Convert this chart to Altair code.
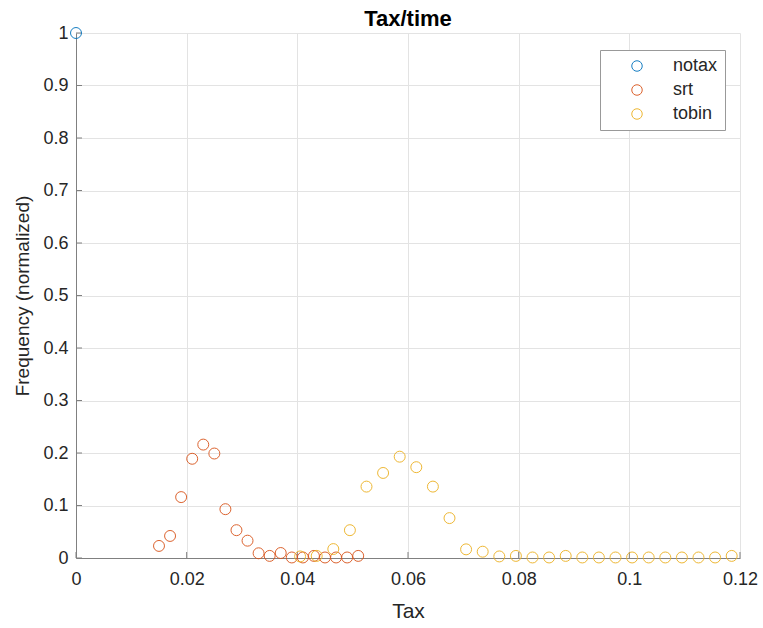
import altair as alt
import pandas as pd

# ---- data ----
notax_x = [0.0]
notax_y = [1.0]

srt_x = [0.015, 0.017, 0.019, 0.021, 0.023, 0.025, 0.027, 0.029, 0.031, 0.033,
         0.035, 0.037, 0.039, 0.041, 0.043, 0.045, 0.047, 0.049, 0.051]
srt_y = [0.023, 0.042, 0.116, 0.189, 0.216, 0.199, 0.093, 0.053, 0.033, 0.009,
         0.004, 0.0095, 0.001, 0.001, 0.004, 0.001, 0.001, 0.001, 0.004]

tobin_x = [0.0405, 0.0435, 0.0465, 0.0495, 0.0525, 0.0555, 0.0585, 0.0615, 0.0645,
           0.0675, 0.0705, 0.0735, 0.0765, 0.0795, 0.0825, 0.0855, 0.0885, 0.0915,
           0.0945, 0.0975, 0.1005, 0.1035, 0.1065, 0.1095, 0.1125, 0.1155, 0.1185]
tobin_y = [0.003, 0.004, 0.017, 0.053, 0.136, 0.162, 0.193, 0.173, 0.136,
           0.076, 0.0165, 0.012, 0.003, 0.004, 0.001, 0.001, 0.004, 0.001,
           0.001, 0.001, 0.001, 0.001, 0.001, 0.001, 0.001, 0.001, 0.004]

series_names = ["notax", "srt", "tobin"]
series_colors = ["#0072BD", "#D95319", "#EDB120"]

x_ticks = [0, 0.02, 0.04, 0.06, 0.08, 0.1, 0.12]
y_ticks = [0, 0.1, 0.2, 0.3, 0.4, 0.5, 0.6, 0.7, 0.8, 0.9, 1.0]

chart_title = "Tax/time"

# ---- tables ----
rows = []
for name, xs, ys in [("notax", notax_x, notax_y), ("srt", srt_x, srt_y), ("tobin", tobin_x, tobin_y)]:
    for xv, yv in zip(xs, ys):
        rows.append({"Tax": xv, "Freq": yv, "series": name})
df = pd.DataFrame(rows)
xt = pd.DataFrame({"Tax": x_ticks})
yt = pd.DataFrame({"Freq": y_ticks})
tt = pd.DataFrame({"label": [chart_title]})

FONT = "Liberation Sans"
W, H = 664, 525
AX = "#808080"

xscale = alt.Scale(domain=[0, 0.12], nice=False, zero=False)
yscale = alt.Scale(domain=[0, 1], nice=False)

points = alt.Chart(df).mark_point(shape="circle", filled=False, size=120, strokeWidth=1, opacity=0.9, clip=False).encode(
    x=alt.X("Tax:Q", scale=xscale,
            axis=alt.Axis(values=x_ticks, format="~g", title="Tax", grid=True, ticks=False,
                          labelFlush=False, labelPadding=12, titlePadding=12, titleFontSize=21)),
    y=alt.Y("Freq:Q", scale=yscale,
            axis=alt.Axis(values=y_ticks, format="~g", title="Frequency (normalized)", grid=True,
                          ticks=False, labelFlush=False, labelPadding=8, titlePadding=10,
                          titleFontSize=19)),
    color=alt.Color("series:N", scale=alt.Scale(domain=series_names, range=series_colors),
                    legend=alt.Legend(title=None, orient="none", legendX=524, legendY=17,
                                      strokeColor="#999999", fillColor="white", padding=7,
                                      symbolOffset=21, labelOffset=27, rowPadding=6,
                                      symbolSize=110, symbolStrokeWidth=1, symbolType="circle",
                                      labelFontSize=18, labelFont=FONT, labelColor="#262626")),
)

xtick_rules = alt.Chart(xt).mark_rule(color=AX, strokeWidth=1).encode(
    x=alt.X("Tax:Q", scale=xscale),
    y=alt.value(H),
    y2=alt.value(H - 6),
)
ytick_rules = alt.Chart(yt).mark_rule(color=AX, strokeWidth=1).encode(
    y=alt.Y("Freq:Q", scale=yscale),
    x=alt.value(0),
    x2=alt.value(6),
)

title_text = alt.Chart(tt).mark_text(font=FONT, fontSize=22, fontWeight="bold", color="#000000",
                                     baseline="alphabetic", align="center").encode(
    text="label:N",
    x=alt.value(W / 2),
    y=alt.value(-7),
)

chart = alt.layer(xtick_rules, ytick_rules, points, title_text).properties(
    width=W, height=H,
    autosize=alt.AutoSizeParams(type="none"),
    padding={"left": 76, "top": 33, "right": 23, "bottom": 70},
    background="white",
).configure_view(stroke=None).configure_axis(
    labelFont=FONT, titleFont=FONT, labelFontSize=18, titleFontSize=20,
    labelColor="#262626", titleColor="#262626", titleFontWeight="normal",
    domainColor=AX, domainWidth=1, gridColor="#e3e3e3", gridWidth=1,
)

chart.save("out.html", embed_options={"renderer": "svg", "actions": False})
